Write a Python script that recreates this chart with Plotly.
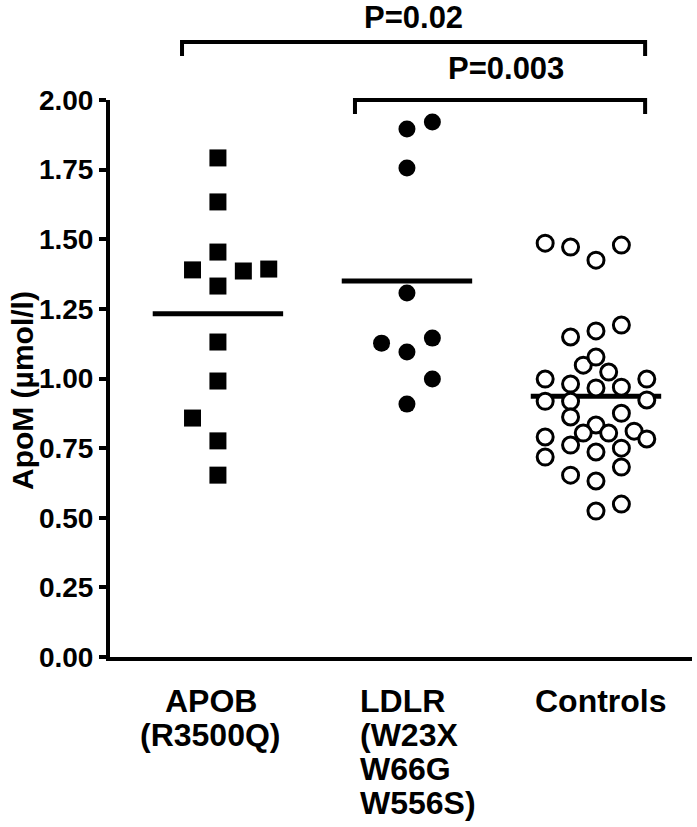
import numpy as np
import plotly.graph_objects as go

# ---------------- data ----------------
categories = ["APOB (R3500Q)", "LDLR (W23X W66G W556S)", "Controls"]

apob_values = [1.792, 1.634, 1.454, 1.390, 1.386, 1.393, 1.332, 1.131,
               0.991, 0.858, 0.776, 0.653]
ldlr_values = [1.921, 1.896, 1.756, 1.307, 1.145, 1.127, 1.095, 0.998, 0.908]
control_values = [1.486, 1.472, 1.425, 1.479,
                  1.149, 1.171, 1.192,
                  1.048, 1.077, 1.023,
                  0.998, 0.980, 0.966, 0.969, 0.998,
                  0.918, 0.918, 0.923,
                  0.862, 0.875,
                  0.833, 0.804, 0.804, 0.811, 0.783, 0.790,
                  0.761, 0.736, 0.750, 0.718, 0.682, 0.653, 0.632, 0.549, 0.524]

y_tick_values = [0.0, 0.25, 0.5, 0.75, 1.0, 1.25, 1.5, 1.75, 2.0]

category_label_lines = [["APOB", "(R3500Q)"],
                        ["LDLR", "(W23X", "W66G", "W556S)"],
                        ["Controls"]]

comparisons = [(0, 2, "P=0.02"), (1, 2, "P=0.003")]

# ---------------- layout helpers (positions / styles) ----------------
apob_slots = [0, 0, 0, -2, 2, 4, 0, 0, 0, -2, 0, 0]
ldlr_slots = [2, 0, 0, 0, 2, -2, 0, 2, 0]
control_slots = [-4, -2, 0, 2,
                 -2, 0, 2,
                 -1, 0, 1,
                 -4, -2, 0, 2, 4,
                 -4, -2, 4,
                 -2, 2,
                 0, -1, 1, 3, 4, -4,
                 -2, 0, 2, -4, 2, -2, 0, 2, 0]
SLOT = 0.0672          # horizontal swarm step in category units
MEAN_HALF = 0.345      # half width of mean bar

FONT = "Liberation Sans, Arial, Helvetica, sans-serif"

groups = [
    (apob_values, apob_slots, dict(symbol="square", size=17, color="black")),
    (ldlr_values, ldlr_slots, dict(symbol="circle", size=17, color="black")),
    (control_values, control_slots,
     dict(symbol="circle", size=16, color="white", line=dict(color="black", width=3))),
]

fig = go.Figure()

# mean lines first (markers on top)
for i, (vals, slots, mk) in enumerate(groups):
    m = float(np.mean(vals))
    fig.add_trace(go.Scatter(x=[i - MEAN_HALF, i + MEAN_HALF], y=[m, m], mode="lines",
                             line=dict(color="black", width=5), hoverinfo="skip",
                             showlegend=False))

for i, (vals, slots, mk) in enumerate(groups):
    xs = [i + s * SLOT for s in slots]
    fig.add_trace(go.Scatter(x=xs, y=vals, mode="markers", marker=mk,
                             name=categories[i], showlegend=False, cliponaxis=False))

# ---------------- category labels (multi-line, tight spacing) ----------------
label_anchor = [dict(xanchor="center", xshift=-7),
                dict(xanchor="left", xshift=-49),
                dict(xanchor="center", xshift=5)]
annotations = []
for i, lines in enumerate(category_label_lines):
    for j, txt in enumerate(lines):
        annotations.append(dict(
            x=i, xref="x", y=0, yref="paper", yanchor="middle",
            yshift=-44 - 34 * j, text=txt, showarrow=False,
            font=dict(family=FONT, size=32, color="black", weight="bold"),
            align="left", **label_anchor[i]))

# ---------------- significance brackets ----------------
bracket_x = [(-0.19, 2.26), (0.725, 2.26)]
bracket_y = [1.1041, 1.0]          # paper coords of horizontal bar
bracket_drop = 0.025
text_y = [1.148, 1.056]
text_dx = [0.0, 0.03]
shapes = []
for k, (g1, g2, label) in enumerate(comparisons):
    x0, x1 = bracket_x[k]
    yb = bracket_y[k]
    shapes.append(dict(type="path", xref="x", yref="paper",
                       path=f"M {x0} {yb - bracket_drop} L {x0} {yb} L {x1} {yb} L {x1} {yb - bracket_drop}",
                       line=dict(color="black", width=4)))
    annotations.append(dict(x=(x0 + x1) / 2 + text_dx[k], xref="x", y=text_y[k], yref="paper",
                            yanchor="middle", text=label, showarrow=False,
                            font=dict(family=FONT, size=31, color="black", weight="bold")))

# y-axis title
annotations.append(dict(x=0, xref="paper", xshift=-88, xanchor="center",
                        y=0.4775, yref="paper", yanchor="middle", textangle=-90,
                        text="ApoM (µmol/l)", showarrow=False,
                        font=dict(family=FONT, size=30, color="black", weight="bold")))

fig.update_layout(
    width=697, height=827,
    margin=dict(l=110, r=5, t=100, b=170),
    paper_bgcolor="white", plot_bgcolor="white",
    shapes=shapes, annotations=annotations,
    xaxis=dict(range=[-0.571, 2.508], showgrid=False, zeroline=False,
               showticklabels=False, ticks="", showline=True,
               linecolor="black", linewidth=4),
    yaxis=dict(range=[0, 2.0], tickvals=y_tick_values, tickformat=".2f",
               ticks="outside", ticklen=7, tickwidth=4, tickcolor="black",
               showline=True, linecolor="black", linewidth=4,
               showgrid=False, zeroline=False,
               tickfont=dict(family=FONT, size=28, color="black", weight="bold")),
)

fig.write_html("out.html", config={"displayModeBar": False},
               post_script="document.body.style.margin='0';document.body.style.padding='0';")
